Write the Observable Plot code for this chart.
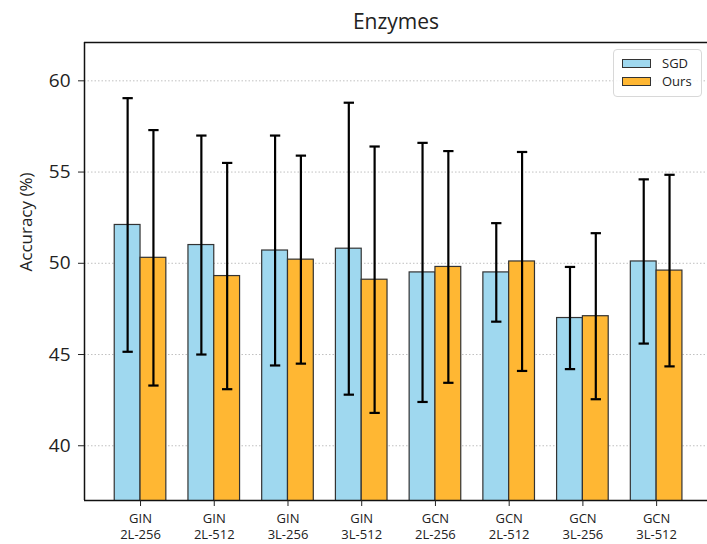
<!DOCTYPE html>
<html>
<head>
<meta charset="utf-8">
<script src="https://cdn.jsdelivr.net/npm/d3@7"></script>
<script src="https://cdn.jsdelivr.net/npm/@observablehq/plot@0.6"></script>
<style>
  body { margin: 0; background: #fff; font-family: "Open Sans", Lato, sans-serif; }
  #wrap { position: relative; width: 707px; height: 544px; }
  #legend { position: absolute; left: 613px; top: 49px; width: 89px; height: 48px; box-sizing: border-box;
    border: 1px solid #d8d8d8; border-radius: 4px; background: rgba(255,255,255,0.85); font-size: 13px; color: #222; }
  .item { position: absolute; left: 8px; display: flex; align-items: center; line-height: 18px; }
  .sw { width: 29px; height: 9px; border: 1.2px solid #333; box-sizing: border-box; margin-right: 11px; }
</style>
</head>
<body>
<div id="wrap"><div id="chart"></div>
  <div id="legend"></div>
</div>
<script>
const categories = ["GIN\n2L-256", "GIN\n2L-512", "GIN\n3L-256", "GIN\n3L-512", "GCN\n2L-256", "GCN\n2L-512", "GCN\n3L-256", "GCN\n3L-512"];
const seriesNames = ["SGD", "Ours"];
const sgdMean = [52.1, 51.0, 50.7, 50.8, 49.5, 49.5, 47.0, 50.1];
const sgdErr  = [6.95, 6.0, 6.3, 8.0, 7.1, 2.7, 2.8, 4.5];
const oursMean = [50.3, 49.3, 50.2, 49.1, 49.8, 50.1, 47.1, 49.6];
const oursErr  = [7.0, 6.2, 5.7, 7.3, 6.35, 6.0, 4.55, 5.25];
const yTicks = [40, 45, 50, 55, 60];
const colors = ["#9FD8EF", "#FFB733"];

const barWidth = 0.35;
const capHalf = 0.07;
const xDomain = [-0.76, 7.69];
const yDomain = [37.0, 62.1];

const rows = [];
categories.forEach((c, i) => {
  rows.push({i, series: "SGD", mean: sgdMean[i], err: sgdErr[i], x1: i - barWidth, x2: i, xc: i - barWidth / 2});
  rows.push({i, series: "Ours", mean: oursMean[i], err: oursErr[i], x1: i, x2: i + barWidth, xc: i + barWidth / 2});
});

const plot = Plot.plot({
  width: 707,
  height: 544,
  marginLeft: 84,
  marginRight: 0,
  marginTop: 42,
  marginBottom: 44,
  style: {fontFamily: "'Open Sans', Lato, sans-serif", color: "#222", background: "#fff"},
  x: {type: "linear", domain: xDomain},
  y: {domain: yDomain},
  color: {domain: seriesNames, range: colors},
  marks: [
    Plot.gridY(yTicks, {stroke: "#b0b0b0", strokeOpacity: 1, strokeDasharray: "1.5,2", strokeWidth: 0.8}),
    Plot.rect(rows, {x1: "x1", x2: "x2", y1: 0, y2: "mean", fill: "series", stroke: "#333", strokeWidth: 1.2, clip: true}),
    Plot.ruleX(rows, {x: "xc", y1: d => d.mean - d.err, y2: d => d.mean + d.err, stroke: "#000", strokeWidth: 2.2}),
    Plot.link(rows, {x1: d => d.xc - capHalf, x2: d => d.xc + capHalf, y1: d => d.mean + d.err, y2: d => d.mean + d.err, stroke: "#000", strokeWidth: 2.2}),
    Plot.link(rows, {x1: d => d.xc - capHalf, x2: d => d.xc + capHalf, y1: d => d.mean - d.err, y2: d => d.mean - d.err, stroke: "#000", strokeWidth: 2.2}),
    Plot.ruleX([xDomain[0]], {stroke: "#111", strokeWidth: 1.5}),
    Plot.ruleY([yDomain[0], yDomain[1]], {stroke: "#111", strokeWidth: 1.5}),
    Plot.axisY({ticks: yTicks, tickSize: 6, tickPadding: 8, fontSize: 19, label: null, stroke: "#222"}),
    Plot.axisX({ticks: d3.range(categories.length), tickFormat: i => categories[i], tickSize: 6, tickPadding: 4, fontSize: 13, lineHeight: 1.3, label: null, stroke: "#222"}),
    Plot.text(["Accuracy (%)"], {frameAnchor: "left", rotate: -90, dx: -58, fontSize: 17, fill: "#222"}),
    Plot.text(["Enzymes"], {frameAnchor: "top", lineAnchor: "middle", dy: -20, fontSize: 21, fill: "#222"})
  ]
});
document.getElementById("chart").appendChild(plot);

const legend = document.getElementById("legend");
seriesNames.forEach((s, k) => {
  const item = document.createElement("div");
  item.className = "item";
  item.style.top = (k === 0 ? 4 : 22) + "px";
  item.innerHTML = `<div class="sw" style="background:${colors[k]}"></div><span>${s}</span>`;
  legend.appendChild(item);
});
</script>
</body>
</html>
